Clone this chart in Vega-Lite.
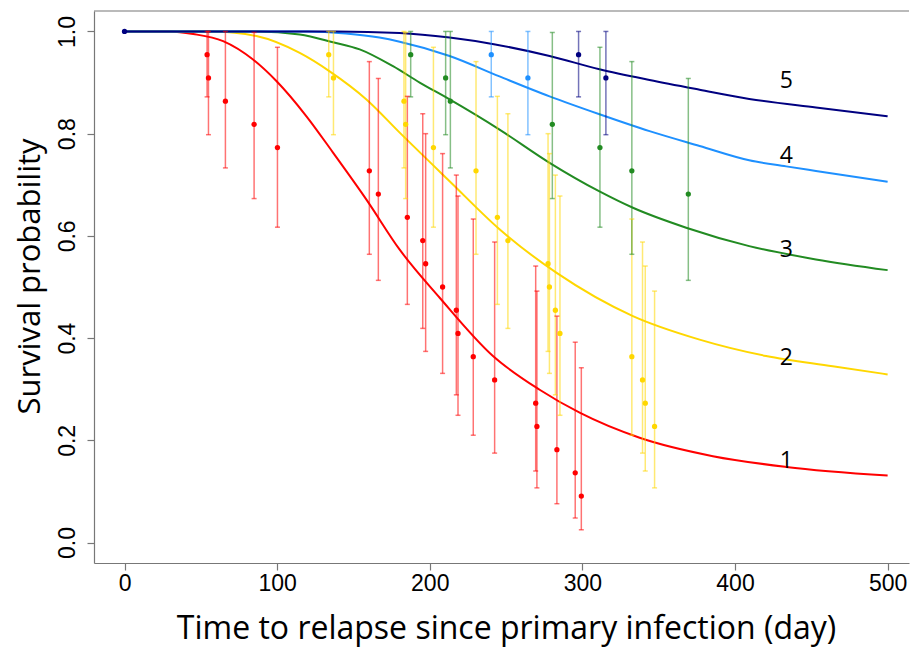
{
  "$schema": "https://vega.github.io/schema/vega-lite/v6.json",
  "width": 815,
  "height": 552,
  "autosize": {"type": "none"},
  "padding": {"left": 94, "top": 11, "right": 1, "bottom": 85},
  "background": "white",
  "config": {"view": {"stroke": null}},
  "datasets": {
    "curves": [
      {"g": 1, "t": 0, "s": 1}, {"g": 1, "t": 30, "s": 1}, {"g": 1, "t": 45, "s": 0.995}, {"g": 1, "t": 64.6, "s": 0.981}, {"g": 1, "t": 84.2, "s": 0.945}, {"g": 1, "t": 99.5, "s": 0.903}, {"g": 1, "t": 119.2, "s": 0.834}, {"g": 1, "t": 136.6, "s": 0.763}, {"g": 1, "t": 158.5, "s": 0.671}, {"g": 1, "t": 180.3, "s": 0.573}, {"g": 1, "t": 206.5, "s": 0.479}, {"g": 1, "t": 241.4, "s": 0.365}, {"g": 1, "t": 272, "s": 0.299}, {"g": 1, "t": 298.2, "s": 0.254}, {"g": 1, "t": 337.5, "s": 0.205}, {"g": 1, "t": 385.5, "s": 0.169}, {"g": 1, "t": 433.5, "s": 0.148}, {"g": 1, "t": 500, "s": 0.131},
      {"g": 2, "t": 0, "s": 1}, {"g": 2, "t": 58, "s": 1}, {"g": 2, "t": 86.4, "s": 0.991}, {"g": 2, "t": 114.8, "s": 0.958}, {"g": 2, "t": 134.4, "s": 0.922}, {"g": 2, "t": 158.5, "s": 0.867}, {"g": 2, "t": 180.3, "s": 0.802}, {"g": 2, "t": 213, "s": 0.707}, {"g": 2, "t": 245.7, "s": 0.613}, {"g": 2, "t": 282.9, "s": 0.528}, {"g": 2, "t": 333.1, "s": 0.443}, {"g": 2, "t": 376.8, "s": 0.397}, {"g": 2, "t": 420.4, "s": 0.365}, {"g": 2, "t": 464, "s": 0.345}, {"g": 2, "t": 500, "s": 0.329},
      {"g": 3, "t": 0, "s": 1}, {"g": 3, "t": 86.4, "s": 1}, {"g": 3, "t": 114.8, "s": 0.994}, {"g": 3, "t": 136.6, "s": 0.979}, {"g": 3, "t": 154.1, "s": 0.965}, {"g": 3, "t": 175.9, "s": 0.932}, {"g": 3, "t": 193.4, "s": 0.9}, {"g": 3, "t": 213, "s": 0.867}, {"g": 3, "t": 245.7, "s": 0.808}, {"g": 3, "t": 278.5, "s": 0.743}, {"g": 3, "t": 311.2, "s": 0.687}, {"g": 3, "t": 333.1, "s": 0.655}, {"g": 3, "t": 368, "s": 0.616}, {"g": 3, "t": 409.3, "s": 0.58}, {"g": 3, "t": 453, "s": 0.554}, {"g": 3, "t": 500, "s": 0.533},
      {"g": 4, "t": 0, "s": 1}, {"g": 4, "t": 120, "s": 1}, {"g": 4, "t": 145, "s": 0.996}, {"g": 4, "t": 167, "s": 0.988}, {"g": 4, "t": 180.3, "s": 0.98}, {"g": 4, "t": 213, "s": 0.952}, {"g": 4, "t": 245.7, "s": 0.912}, {"g": 4, "t": 278.5, "s": 0.873}, {"g": 4, "t": 311.2, "s": 0.838}, {"g": 4, "t": 344, "s": 0.805}, {"g": 4, "t": 376.8, "s": 0.776}, {"g": 4, "t": 409.3, "s": 0.748}, {"g": 4, "t": 433.5, "s": 0.736}, {"g": 4, "t": 453, "s": 0.727}, {"g": 4, "t": 500, "s": 0.706},
      {"g": 5, "t": 0, "s": 1}, {"g": 5, "t": 138.8, "s": 1}, {"g": 5, "t": 180.3, "s": 0.997}, {"g": 5, "t": 213, "s": 0.988}, {"g": 5, "t": 242, "s": 0.975}, {"g": 5, "t": 278.5, "s": 0.952}, {"g": 5, "t": 311.2, "s": 0.926}, {"g": 5, "t": 344, "s": 0.905}, {"g": 5, "t": 376.8, "s": 0.886}, {"g": 5, "t": 409.3, "s": 0.868}, {"g": 5, "t": 453, "s": 0.851}, {"g": 5, "t": 500, "s": 0.834}
    ],
    "pts": [
      {"g": 1, "t": 54.1, "s": 0.9545, "lo": 0.872, "hi": 1.0},
      {"g": 1, "t": 55.0, "s": 0.9091, "lo": 0.798, "hi": 1.0},
      {"g": 1, "t": 66.1, "s": 0.8636, "lo": 0.733, "hi": 1.0},
      {"g": 1, "t": 84.9, "s": 0.8182, "lo": 0.673, "hi": 0.998},
      {"g": 1, "t": 100.2, "s": 0.7727, "lo": 0.617, "hi": 0.969},
      {"g": 1, "t": 160.4, "s": 0.7273, "lo": 0.564, "hi": 0.941},
      {"g": 1, "t": 166.3, "s": 0.6818, "lo": 0.513, "hi": 0.908},
      {"g": 1, "t": 185.3, "s": 0.6364, "lo": 0.466, "hi": 0.873},
      {"g": 1, "t": 195.4, "s": 0.5909, "lo": 0.419, "hi": 0.839},
      {"g": 1, "t": 197.3, "s": 0.5455, "lo": 0.374, "hi": 0.8},
      {"g": 1, "t": 208.4, "s": 0.5, "lo": 0.331, "hi": 0.761},
      {"g": 1, "t": 217.4, "s": 0.4545, "lo": 0.289, "hi": 0.719},
      {"g": 1, "t": 218.5, "s": 0.4091, "lo": 0.249, "hi": 0.678},
      {"g": 1, "t": 228.5, "s": 0.3636, "lo": 0.21, "hi": 0.633},
      {"g": 1, "t": 242.5, "s": 0.3182, "lo": 0.175, "hi": 0.588},
      {"g": 1, "t": 269.4, "s": 0.2727, "lo": 0.14, "hi": 0.541},
      {"g": 1, "t": 270.2, "s": 0.2273, "lo": 0.107, "hi": 0.492},
      {"g": 1, "t": 283.3, "s": 0.1818, "lo": 0.076, "hi": 0.443},
      {"g": 1, "t": 295.3, "s": 0.1364, "lo": 0.048, "hi": 0.392},
      {"g": 1, "t": 299.3, "s": 0.0909, "lo": 0.025, "hi": 0.342},
      {"g": 2, "t": 133.8, "s": 0.9545, "lo": 0.872, "hi": 1.0},
      {"g": 2, "t": 136.9, "s": 0.9091, "lo": 0.798, "hi": 1.0},
      {"g": 2, "t": 183.1, "s": 0.8636, "lo": 0.733, "hi": 1.0},
      {"g": 2, "t": 184.2, "s": 0.8182, "lo": 0.673, "hi": 0.998},
      {"g": 2, "t": 202.4, "s": 0.7727, "lo": 0.617, "hi": 0.969},
      {"g": 2, "t": 230.3, "s": 0.7273, "lo": 0.564, "hi": 0.941},
      {"g": 2, "t": 244.3, "s": 0.6364, "lo": 0.466, "hi": 0.873},
      {"g": 2, "t": 251.2, "s": 0.5909, "lo": 0.419, "hi": 0.839},
      {"g": 2, "t": 277.5, "s": 0.5455, "lo": 0.374, "hi": 0.8},
      {"g": 2, "t": 278.4, "s": 0.5, "lo": 0.331, "hi": 0.761},
      {"g": 2, "t": 282.3, "s": 0.4545, "lo": 0.289, "hi": 0.719},
      {"g": 2, "t": 285.3, "s": 0.4091, "lo": 0.249, "hi": 0.678},
      {"g": 2, "t": 332.4, "s": 0.3636, "lo": 0.21, "hi": 0.633},
      {"g": 2, "t": 339.4, "s": 0.3182, "lo": 0.175, "hi": 0.588},
      {"g": 2, "t": 341.2, "s": 0.2727, "lo": 0.14, "hi": 0.541},
      {"g": 2, "t": 347.3, "s": 0.2273, "lo": 0.107, "hi": 0.492},
      {"g": 3, "t": 187.5, "s": 0.9545, "lo": 0.872, "hi": 1.0},
      {"g": 3, "t": 210.4, "s": 0.9091, "lo": 0.798, "hi": 1.0},
      {"g": 3, "t": 213.5, "s": 0.8636, "lo": 0.733, "hi": 1.0},
      {"g": 3, "t": 280.3, "s": 0.8182, "lo": 0.673, "hi": 0.998},
      {"g": 3, "t": 311.5, "s": 0.7727, "lo": 0.617, "hi": 0.969},
      {"g": 3, "t": 332.4, "s": 0.7273, "lo": 0.564, "hi": 0.941},
      {"g": 3, "t": 369.4, "s": 0.6818, "lo": 0.513, "hi": 0.908},
      {"g": 4, "t": 240.3, "s": 0.9545, "lo": 0.872, "hi": 1.0},
      {"g": 4, "t": 264.3, "s": 0.9091, "lo": 0.798, "hi": 1.0},
      {"g": 5, "t": 0, "s": 1.0, "lo": 1.0, "hi": 1.0},
      {"g": 5, "t": 297.5, "s": 0.9545, "lo": 0.872, "hi": 1.0},
      {"g": 5, "t": 315.4, "s": 0.9091, "lo": 0.798, "hi": 1.0}
    ],
    "labs": [
      {"g": 1, "t": 433.6, "s": 0.159, "label": "1"},
      {"g": 2, "t": 433.6, "s": 0.361, "label": "2"},
      {"g": 3, "t": 433.6, "s": 0.573, "label": "3"},
      {"g": 4, "t": 433.6, "s": 0.756, "label": "4"},
      {"g": 5, "t": 433.6, "s": 0.903, "label": "5"}
    ],
    "frame": [{"top": 1.04}]
  },
  "layer": [
    {
      "data": {"name": "curves"},
      "mark": {"type": "line", "strokeWidth": 2, "interpolate": "monotone"},
      "encoding": {
        "x": {"field": "t", "type": "quantitative",
          "scale": {"domain": [-20, 514], "nice": false, "zero": false},
          "axis": {"values": [0, 100, 200, 300, 400, 500], "grid": false, "tickSize": 7, "tickColor": "#777", "tickWidth": 1.2,
            "domainColor": "#777", "domainWidth": 1.2,
            "labelFont": "Liberation Sans", "labelFontSize": 23, "labelColor": "black", "labelPadding": 2, "labelFlush": false,
            "title": "Time to relapse since primary infection (day)", "titleFont": "Open Sans", "titleFontSize": 32,
            "titleFontWeight": "normal", "titleColor": "black", "titleX": 412, "titleY": 75, "titleBaseline": "alphabetic", "titleAnchor": null}},
        "y": {"field": "s", "type": "quantitative",
          "scale": {"domain": [-0.04, 1.04], "nice": false, "zero": false},
          "axis": {"values": [0, 0.2, 0.4, 0.6, 0.8, 1.0], "format": ".1f", "grid": false, "tickSize": 7, "tickColor": "#777", "tickWidth": 1.2,
            "domainColor": "#777", "domainWidth": 1.2,
            "labelFont": "Liberation Sans", "labelFontSize": 23, "labelColor": "black", "labelAngle": 270, "labelAlign": "center", "labelBaseline": "bottom", "labelPadding": 8, "labelFlush": false,
            "title": "Survival probability", "titleFont": "Open Sans", "titleFontSize": 31, "titleFontWeight": "normal", "titleColor": "black",
            "titleAngle": 270, "titleX": -55, "titleY": 265, "titleAlign": "center", "titleBaseline": "alphabetic", "titleAnchor": null}},
        "color": {"field": "g", "type": "nominal", "scale": {"domain": [1, 2, 3, 4, 5], "range": ["#FF0000", "#FFD700", "#228B22", "#1E90FF", "#000080"]}, "legend": null}
      }
    },
    {
      "data": {"name": "frame"},
      "mark": {"type": "rule", "color": "#777", "strokeWidth": 1.2},
      "encoding": {"y": {"field": "top", "type": "quantitative"}}
    },
    {
      "data": {"name": "pts"},
      "mark": {"type": "rule", "strokeWidth": 1.5, "opacity": 0.55},
      "encoding": {
        "x": {"field": "t", "type": "quantitative"},
        "y": {"field": "lo", "type": "quantitative"},
        "y2": {"field": "hi"},
        "color": {"field": "g", "type": "nominal", "legend": null}
      }
    },
    {
      "data": {"name": "pts"},
      "mark": {"type": "tick", "orient": "horizontal", "size": 5, "thickness": 1.5, "opacity": 0.55},
      "encoding": {
        "x": {"field": "t", "type": "quantitative"},
        "y": {"field": "lo", "type": "quantitative"},
        "color": {"field": "g", "type": "nominal", "legend": null}
      }
    },
    {
      "data": {"name": "pts"},
      "mark": {"type": "tick", "orient": "horizontal", "size": 5, "thickness": 1.5, "opacity": 0.55},
      "encoding": {
        "x": {"field": "t", "type": "quantitative"},
        "y": {"field": "hi", "type": "quantitative"},
        "color": {"field": "g", "type": "nominal", "legend": null}
      }
    },
    {
      "data": {"name": "pts"},
      "mark": {"type": "circle", "size": 28, "opacity": 1},
      "encoding": {
        "x": {"field": "t", "type": "quantitative"},
        "y": {"field": "s", "type": "quantitative"},
        "color": {"field": "g", "type": "nominal", "legend": null}
      }
    },
    {
      "data": {"name": "labs"},
      "mark": {"type": "text", "font": "Open Sans", "fontSize": 23, "color": "black", "align": "center", "baseline": "middle"},
      "encoding": {
        "x": {"field": "t", "type": "quantitative"},
        "y": {"field": "s", "type": "quantitative"},
        "text": {"field": "label"}
      }
    }
  ]
}
